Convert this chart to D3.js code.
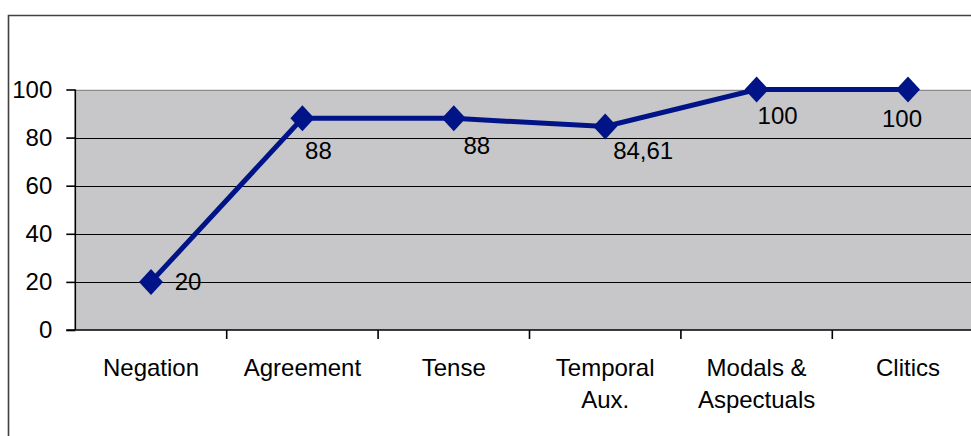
<!DOCTYPE html>
<html><head><meta charset="utf-8">
<script src="https://cdn.jsdelivr.net/npm/d3@7"></script>
<style>
html,body{margin:0;padding:0;background:#fff;}
svg{display:block;}
text{font-family:"Liberation Sans",Arial,sans-serif;fill:#000;}
</style></head>
<body>
<svg id="chart" width="971" height="436"></svg>
<script>
// ---- data ----
const categories = ["Negation", "Agreement", "Tense", "Temporal Aux.", "Modals & Aspectuals", "Clitics"];
const categoryLines = [["Negation"], ["Agreement"], ["Tense"], ["Temporal", "Aux."], ["Modals &", "Aspectuals"], ["Clitics"]];
const values = [20, 88, 88, 84.61, 100, 100];
const valueLabels = ["20", "88", "88", "84,61", "100", "100"];
const yTicks = [0, 20, 40, 60, 80, 100];
// label nudges (style) relative to each point
const labelNudge = [[37, 0], [16, 32], [23, 27], [38, 24], [21, 26], [-6, 29]];

(function() {
const svg = d3.select("#chart");
const pLeft = 75.3, pTop = 89.5, pBottom = 330;
const step = 151.4;
const pRight = pLeft + step * categories.length;

const x = d3.scaleBand().domain(categories).range([pLeft, pRight]).paddingInner(0).paddingOuter(0);
const y = d3.scaleLinear().domain([0, 100]).range([pBottom, pTop]);

// outer frame (cropped)
svg.append("path")
  .attr("d", `M8.5,440 L8.5,15.5 L980,15.5`)
  .attr("fill", "none").attr("stroke", "#404040").attr("stroke-width", 1.6);

// plot area
svg.append("rect")
  .attr("x", pLeft).attr("y", y(100)).attr("width", pRight - pLeft).attr("height", y(0) - y(100))
  .attr("fill", "#c7c6c9");

// gridlines
svg.append("g").selectAll("line").data(yTicks.filter(d => d > 0)).join("line")
  .attr("x1", pLeft).attr("x2", pRight)
  .attr("y1", d => Math.round(y(d)) + 0.5).attr("y2", d => Math.round(y(d)) + 0.5)
  .attr("stroke", d => d === 100 ? "#8a8a8a" : "#000").attr("stroke-width", 1.2);

// y axis
const yAxis = d3.axisLeft(y).tickValues(yTicks).tickSize(9).tickPadding(14).tickFormat(d3.format("d"));
const gy = svg.append("g").attr("transform", `translate(${pLeft},0)`).call(yAxis);
gy.select(".domain").attr("stroke", "#000").attr("stroke-width", 1.6).attr("d", `M0,${y(100)}V${y(0)}`);
gy.selectAll(".tick line").attr("stroke", "#000").attr("stroke-width", 1.6);
gy.selectAll(".tick text").attr("font-size", 24).attr("font-family", "Liberation Sans, Arial, sans-serif").attr("fill", "#000");

// x axis
const xAxis = d3.axisBottom(x).tickSize(0).tickFormat("");
const gx = svg.append("g").attr("transform", `translate(0,${pBottom})`).call(xAxis);
gx.select(".domain").attr("stroke", "#000").attr("stroke-width", 1.6).attr("d", `M${pLeft - 9},0H${pRight}`);
// category boundary ticks
svg.append("g").selectAll("line").data(categories).join("line")
  .attr("x1", d => x(d) + x.bandwidth()).attr("x2", d => x(d) + x.bandwidth())
  .attr("y1", pBottom).attr("y2", pBottom + 9)
  .attr("stroke", "#000").attr("stroke-width", 1.6);

// category labels
const cl = svg.append("g").selectAll("text").data(categories).join("text")
  .attr("x", d => x(d) + x.bandwidth() / 2)
  .attr("y", 376)
  .attr("text-anchor", "middle")
  .attr("font-size", 24);
cl.each(function(d, i) {
  const t = d3.select(this);
  categoryLines[i].forEach((ln, j) => {
    t.append("tspan").attr("x", x(d) + x.bandwidth() / 2).attr("dy", j === 0 ? 0 : 32).text(ln);
  });
});

// line
const pts = categories.map((c, i) => [x(c) + x.bandwidth() / 2, y(values[i])]);
svg.append("path")
  .attr("d", d3.line()(pts))
  .attr("fill", "none").attr("stroke", "#001488").attr("stroke-width", 5).attr("stroke-linejoin", "miter");

// markers
svg.append("g").selectAll("path").data(pts).join("path")
  .attr("d", d => `M${d[0]},${d[1] - 13}L${d[0] + 12},${d[1]}L${d[0]},${d[1] + 13}L${d[0] - 12},${d[1]}Z`)
  .attr("fill", "#001488");

// data labels
svg.append("g").selectAll("text").data(pts).join("text")
  .attr("x", (d, i) => d[0] + labelNudge[i][0])
  .attr("y", (d, i) => d[1] + labelNudge[i][1])
  .attr("text-anchor", "middle")
  .attr("dominant-baseline", "central")
  .attr("font-size", 24)
  .text((d, i) => valueLabels[i]);
})();
</script>
</body></html>
